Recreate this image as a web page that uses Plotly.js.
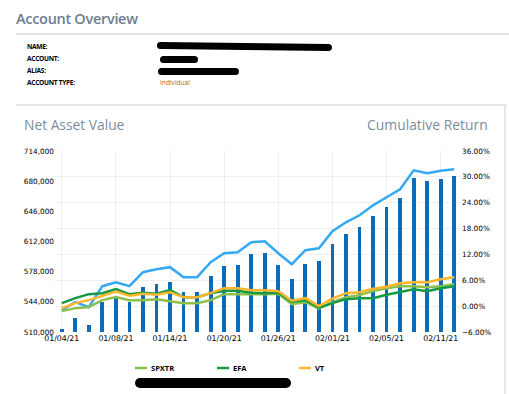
<!DOCTYPE html>
<html>
<head>
<meta charset="utf-8">
<script src="https://cdn.plot.ly/plotly-3.0.1.min.js"></script>
<style>
  html, body { margin:0; padding:0; background:#fff; }
  #wrap { position:relative; width:509px; height:394px; overflow:hidden; font-family:"Open Sans", sans-serif; }
  #chart { position:absolute; left:0; top:0; width:509px; height:394px; }
  .abs { position:absolute; white-space:nowrap; }
  .lbl { font-weight:700; font-size:6.6px; color:#000; letter-spacing:-0.3px; }
  .blob { position:absolute; background:#000; border-radius:6px; }
</style>
</head>
<body>
<div id="wrap">
  <div class="abs" style="left:16px;top:9px;font-size:14.5px;font-weight:600;color:#6d7e90;letter-spacing:-0.3px;">Account Overview</div>
  <div class="abs" style="left:16px;top:33px;width:493px;height:2px;background:#e3e3e3;"></div>
  <div class="abs lbl" style="left:27px;top:42px;">NAME:</div>
  <div class="abs lbl" style="left:27px;top:54px;">ACCOUNT:</div>
  <div class="abs lbl" style="left:27px;top:66px;">ALIAS:</div>
  <div class="abs lbl" style="left:27px;top:78px;">ACCOUNT TYPE:</div>
  <div class="abs" style="left:160px;top:78px;font-size:6.6px;color:#b5651d;">Individual</div>
  <div class="blob" style="left:157px;top:43px;width:175px;height:7px;transform:rotate(0.6deg);"></div>
  <div class="blob" style="left:160px;top:56px;width:38px;height:7px;"></div>
  <div class="blob" style="left:158px;top:68px;width:81px;height:7px;"></div>
  <div class="abs" style="left:16px;top:104px;width:491px;height:2px;background:#e6e6e6;"></div>
  <div class="abs" style="left:504px;top:104px;width:2px;height:290px;background:#e6e6e6;"></div>
  <div id="chart"></div>
  <div class="blob" style="left:135px;top:378px;width:156px;height:10px;border-radius:5px;"></div>
</div>
<script>
// ---- data ----
const dates = ["01/04/21","01/05/21","01/06/21","01/07/21","01/08/21","01/11/21","01/12/21","01/13/21","01/14/21","01/15/21",
  "01/18/21","01/19/21","01/20/21","01/21/21","01/22/21","01/25/21","01/26/21","01/27/21","01/28/21","01/29/21",
  "02/01/21","02/02/21","02/03/21","02/04/21","02/05/21","02/08/21","02/09/21","02/10/21","02/11/21","02/12/21"];
const tickDates = ["01/04/21","01/08/21","01/14/21","01/20/21","01/26/21","02/01/21","02/05/21","02/11/21"];

const navValues = [513400,525700,517900,543700,548500,543700,560500,563900,566100,554900,
  554900,572800,584100,585200,597500,598600,585200,569500,586300,589700,
  608700,620000,628900,641300,651400,661500,683900,680500,682800,686200];
const accountReturn = [-0.93,0.93,-0.23,4.63,5.56,4.63,7.88,8.57,9.04,6.72,
  6.72,10.19,12.28,12.51,14.83,15.06,12.28,9.73,12.97,13.44,
  17.38,19.46,21.08,23.40,25.26,27.11,31.51,30.82,31.40,31.74];
const spxtr = [-1.16,-0.46,-0.23,1.39,2.09,1.39,1.39,1.62,1.16,0.70,
  0.70,1.39,2.78,2.78,2.66,2.78,2.90,0.46,0.93,-0.58,
  0.93,2.09,2.55,3.48,4.17,4.63,4.63,4.40,4.63,5.10];
const efa = [0.70,1.85,2.78,3.01,3.94,2.78,3.13,2.90,3.71,2.09,
  2.09,3.01,3.59,3.59,3.13,3.01,3.13,1.04,1.39,-0.35,
  0.70,1.62,1.85,1.85,2.66,3.24,3.94,3.48,4.17,4.63];
const vt = [-0.46,0.70,1.39,2.32,3.36,2.43,2.90,2.66,3.24,2.09,
  2.09,3.01,4.17,4.17,3.71,3.71,3.48,1.27,1.85,0.00,
  1.74,3.01,3.24,4.05,4.52,5.33,5.56,5.56,6.26,6.72];

const benchNames = ["SPXTR","EFA","VT"];
const benchColors = ["#8cc04b","#159a44","#fdb52c"];
const benchData = [spxtr, efa, vt];

// ---- layout helpers (pixel -> paper) ----
const L = 55, R = 461, T = 151, B = 332;
const px = x => (x - L) / (R - L);
const py = y => (B - y) / (B - T);

const traces = [
  { type:"bar", x:dates, y:navValues, yaxis:"y", marker:{color:"#0b6cb9"}, width:0.28, name:"NAV", showlegend:false, hoverinfo:"skip" },
  { type:"scatter", mode:"lines", x:dates, y:accountReturn, yaxis:"y2", line:{color:"#33a9f4", width:2.5}, name:"Return", showlegend:false }
];
benchData.forEach((d,i)=>{
  traces.push({ type:"scatter", mode:"lines", x:dates, y:d, yaxis:"y2", line:{color:benchColors[i], width:2.5}, name:benchNames[i], showlegend:false });
});

const shapes = [];
const annotations = [
  { text:"Net Asset Value", xref:"paper", yref:"paper", x:px(22), y:py(124), xanchor:"left", yanchor:"middle", showarrow:false,
    font:{family:"Open Sans", size:13.8, color:"#7d8da0"} },
  { text:"Cumulative Return", xref:"paper", yref:"paper", x:px(490), y:py(124), xanchor:"right", yanchor:"middle", showarrow:false,
    font:{family:"Open Sans", size:13.9, color:"#7d8da0"} }
];
const legX = [135, 217, 299];
benchNames.forEach((n,i)=>{
  shapes.push({ type:"line", xref:"paper", yref:"paper", x0:px(legX[i]), x1:px(legX[i]+12), y0:py(368), y1:py(368),
    line:{color:benchColors[i], width:2.5} });
  annotations.push({ text:n, xref:"paper", yref:"paper", x:px(legX[i]+14), y:py(368), xanchor:"left", yanchor:"middle", showarrow:false,
    font:{family:"Open Sans", size:7.5, color:"#000", weight:700} });
});

const tf = {family:"DejaVu Sans", size:7.3, color:"#000"};
const layout = {
  width:509, height:394,
  margin:{l:L, r:509-R, t:T, b:394-B, pad:0},
  paper_bgcolor:"rgba(0,0,0,0)", plot_bgcolor:"rgba(0,0,0,0)",
  showlegend:false,
  bargap:0,
  xaxis:{ type:"category", tickmode:"array", tickvals:tickDates, ticktext:tickDates, showgrid:true, gridcolor:"#efefef", gridwidth:1,
    zeroline:false, showline:false, ticks:"", tickfont:{family:"DejaVu Sans", size:7.8, color:"#000"}, fixedrange:true },
  yaxis:{ range:[510000,714000], tickmode:"linear", tick0:510000, dtick:34000, tickformat:",d", showgrid:false, zeroline:false,
    ticks:"", tickfont:tf, fixedrange:true },
  yaxis2:{ overlaying:"y", side:"right", range:[-6,36], tickmode:"linear", tick0:-6, dtick:6, tickformat:".2f", ticksuffix:"%",
    showgrid:true, gridcolor:"#efefef", gridwidth:1, zeroline:false, ticks:"", tickfont:tf, fixedrange:true },
  shapes: shapes,
  annotations: annotations
};

Plotly.newPlot("chart", traces, layout, {displayModeBar:false, staticPlot:true});
</script>
</body>
</html>
